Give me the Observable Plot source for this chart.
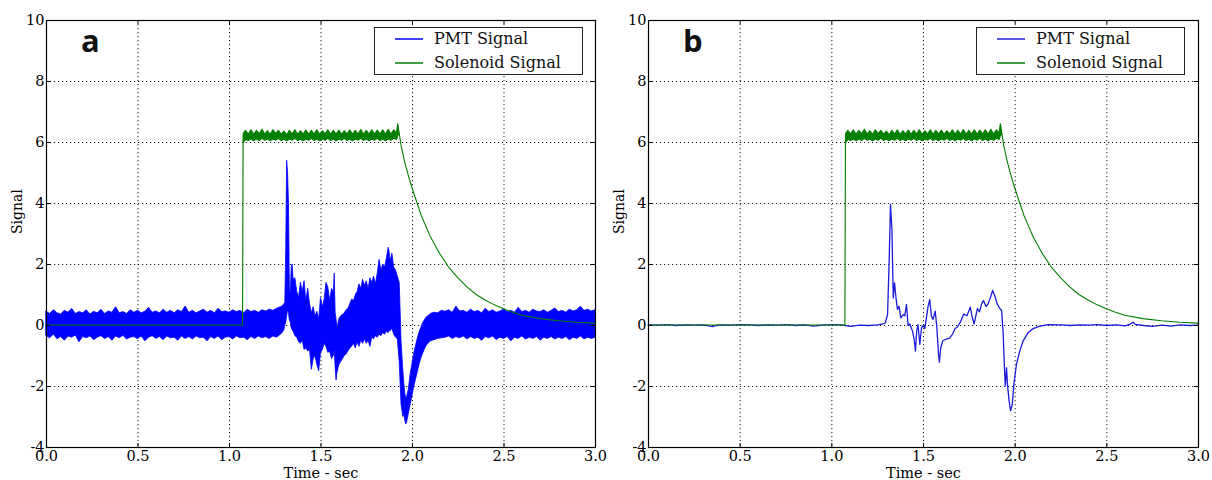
<!DOCTYPE html>
<html>
<head>
<meta charset="utf-8">
<script src="https://cdn.jsdelivr.net/npm/d3@7"></script>
<script src="https://cdn.jsdelivr.net/npm/@observablehq/plot@0.6"></script>
<style>
  body { margin: 0; background: #fff; }
  #wrap { display: flex; width: 1212px; height: 480px; }
  .panel { position: relative; width: 606px; height: 480px; }
  .panel > svg { position: absolute; left: 0; top: 0; overflow: visible; }
  .letter { position: absolute; font-family: "Open Sans", sans-serif; font-weight: 700; font-size: 31px; line-height: 31px; color: #111; }
  .legend { position: absolute; width: 207px; height: 46px; border: 1.3px solid #222; background: #fff;
            font-family: "DejaVu Serif", serif; font-size: 16px; color: #111; box-sizing: content-box; }
  .legend svg.sw { position: absolute; left: 20px; width: 28px; height: 4px; overflow: visible; }
  .legend .lb { position: absolute; left: 59px; line-height: 20px; white-space: nowrap; }
</style>
</head>
<body>
<div id="wrap"></div>
<script>
// ---------------- data ----------------
const xTicks = [0, 0.5, 1.0, 1.5, 2.0, 2.5, 3.0];
const yTicks = [-4, -2, 0, 2, 4, 6, 8, 10];
const seriesNames = ["PMT Signal", "Solenoid Signal"];
const panelLetters = ["a", "b"];
const xLabel = "Time - sec";
const yLabel = "Signal";

// Panel a PMT signal: [time, lower envelope, upper envelope] (noisy band)
const pmtA = [
  [0.00,-0.35,0.45],[0.02,-0.42,0.38],[0.04,-0.30,0.50],[0.06,-0.45,0.40],[0.08,-0.38,0.36],
  [0.10,-0.50,0.48],[0.12,-0.36,0.42],[0.14,-0.40,0.55],[0.16,-0.33,0.38],[0.18,-0.55,0.44],
  [0.20,-0.38,0.40],[0.22,-0.42,0.50],[0.24,-0.36,0.36],[0.26,-0.48,0.45],[0.28,-0.40,0.40],
  [0.30,-0.35,0.52],[0.32,-0.44,0.38],[0.34,-0.38,0.46],[0.36,-0.50,0.42],[0.38,-0.36,0.60],
  [0.40,-0.42,0.40],[0.42,-0.34,0.44],[0.44,-0.46,0.38],[0.46,-0.40,0.50],[0.48,-0.38,0.42],
  [0.50,-0.45,0.48],[0.52,-0.36,0.40],[0.54,-0.52,0.45],[0.56,-0.40,0.58],[0.58,-0.35,0.42],
  [0.60,-0.44,0.46],[0.62,-0.38,0.40],[0.64,-0.48,0.52],[0.66,-0.36,0.42],[0.68,-0.42,0.48],
  [0.70,-0.40,0.40],[0.72,-0.50,0.50],[0.74,-0.36,0.44],[0.76,-0.44,0.62],[0.78,-0.38,0.42],
  [0.80,-0.46,0.48],[0.82,-0.36,0.40],[0.84,-0.42,0.46],[0.86,-0.40,0.52],[0.88,-0.52,0.42],
  [0.90,-0.38,0.48],[0.92,-0.44,0.40],[0.94,-0.36,0.55],[0.96,-0.48,0.44],[0.98,-0.40,0.46],
  [1.00,-0.38,0.42],[1.02,-0.46,0.50],[1.04,-0.36,0.44],[1.06,-0.42,0.48],[1.08,-0.40,0.40],
  [1.10,-0.48,0.52],[1.12,-0.38,0.44],[1.14,-0.44,0.48],[1.16,-0.36,0.42],[1.18,-0.42,0.50],
  [1.20,-0.38,0.46],[1.22,-0.44,0.52],[1.24,-0.36,0.48],[1.26,-0.40,0.55],[1.28,-0.30,0.60],
  [1.29,-0.25,0.62],[1.30,-0.15,0.70],[1.305,0.00,0.75],[1.31,0.10,2.50],[1.315,0.30,5.40],
  [1.32,0.50,5.00],[1.325,0.40,4.00],[1.33,0.15,1.20],[1.335,0.10,1.00],[1.34,-0.10,1.90],
  [1.345,-0.15,2.00],[1.35,-0.20,1.50],[1.36,-0.35,1.55],[1.37,-0.40,1.10],[1.38,-0.55,0.90],
  [1.39,-0.60,1.40],[1.40,-0.50,1.10],[1.41,-0.80,1.45],[1.42,-0.75,0.80],[1.43,-0.85,1.20],
  [1.44,-0.80,0.70],[1.45,-1.45,0.40],[1.46,-1.10,0.60],[1.47,-1.00,0.30],[1.48,-1.30,0.45],
  [1.49,-1.50,0.20],[1.50,-0.90,0.90],[1.51,-0.80,0.60],[1.52,-0.60,0.85],[1.53,-0.70,1.40],
  [1.54,-0.90,1.25],[1.55,-0.85,0.80],[1.56,-1.10,1.20],[1.57,-1.00,1.10],[1.575,-0.80,1.70],
  [1.58,-1.40,0.40],[1.585,-1.80,0.20],[1.59,-1.55,-0.10],[1.60,-1.30,0.20],[1.61,-1.20,0.30],
  [1.62,-1.10,0.35],[1.63,-1.00,0.40],[1.64,-0.95,0.50],[1.65,-0.85,0.55],[1.66,-0.75,0.70],
  [1.67,-0.70,0.85],[1.68,-0.60,0.80],[1.69,-0.75,1.00],[1.70,-0.55,1.10],[1.71,-0.70,1.35],
  [1.72,-0.50,1.20],[1.73,-0.60,1.50],[1.74,-0.45,1.30],[1.75,-0.60,1.45],[1.76,-0.50,1.20],
  [1.77,-0.70,1.55],[1.78,-0.40,1.40],[1.79,-0.45,1.60],[1.80,-0.35,1.35],[1.81,-0.40,1.70],
  [1.82,-0.30,2.15],[1.83,-0.35,1.80],[1.84,-0.25,2.00],[1.85,-0.30,1.90],[1.86,-0.20,2.20],
  [1.87,-0.25,2.55],[1.875,-0.15,2.40],[1.88,-0.20,2.10],[1.89,-0.10,2.35],[1.90,-0.30,1.90],
  [1.91,-0.40,1.80],[1.92,-0.45,1.60],[1.93,-1.20,1.40],[1.935,-1.90,0.50],[1.94,-2.60,-0.50],
  [1.945,-2.80,-1.00],[1.95,-3.00,-1.50],[1.955,-2.90,-1.90],[1.96,-3.10,-2.20],[1.965,-3.25,-2.40],
  [1.97,-3.20,-2.35],[1.98,-2.90,-2.10],[1.99,-2.60,-1.60],[2.00,-2.30,-1.25],[2.01,-2.00,-0.90],
  [2.02,-1.75,-0.65],[2.03,-1.50,-0.40],[2.04,-1.25,-0.20],[2.05,-1.05,-0.05],[2.06,-0.90,0.10],
  [2.07,-0.75,0.20],[2.08,-0.65,0.28],[2.09,-0.58,0.32],[2.10,-0.52,0.38],[2.12,-0.48,0.42],
  [2.14,-0.44,0.40],[2.16,-0.42,0.48],[2.18,-0.40,0.45],[2.20,-0.36,0.50],[2.22,-0.44,0.42],
  [2.24,-0.38,0.62],[2.26,-0.42,0.46],[2.28,-0.36,0.48],[2.30,-0.46,0.42],[2.32,-0.38,0.52],
  [2.34,-0.44,0.44],[2.36,-0.40,0.48],[2.38,-0.50,0.40],[2.40,-0.38,0.55],[2.42,-0.42,0.44],
  [2.44,-0.36,0.50],[2.46,-0.48,0.42],[2.48,-0.40,0.46],[2.50,-0.44,0.52],[2.52,-0.38,0.44],
  [2.54,-0.52,0.48],[2.56,-0.40,0.42],[2.58,-0.44,0.58],[2.60,-0.36,0.44],[2.62,-0.46,0.48],
  [2.64,-0.40,0.42],[2.66,-0.44,0.52],[2.68,-0.38,0.46],[2.70,-0.50,0.44],[2.72,-0.40,0.50],
  [2.74,-0.44,0.42],[2.76,-0.38,0.48],[2.78,-0.46,0.56],[2.80,-0.40,0.44],[2.82,-0.44,0.48],
  [2.84,-0.38,0.42],[2.86,-0.48,0.52],[2.88,-0.40,0.46],[2.90,-0.44,0.50],[2.92,-0.36,0.62],
  [2.94,-0.46,0.48],[2.96,-0.40,0.52],[2.98,-0.44,0.46],[3.00,-0.40,0.50]
];

// Panel b PMT signal (filtered): [time, value]
const pmtB = [
  [0.00,0.02],[0.05,0.01],[0.10,0.03],[0.15,0.00],[0.20,0.02],[0.25,0.01],[0.30,0.02],[0.35,-0.04],
  [0.37,0.00],[0.40,0.02],[0.45,0.01],[0.50,0.03],[0.55,0.02],[0.60,0.00],[0.65,0.02],[0.70,0.01],
  [0.75,0.03],[0.80,0.00],[0.85,0.02],[0.90,-0.02],[0.95,0.01],[1.00,0.03],[1.05,0.02],[1.10,-0.03],
  [1.15,0.01],[1.20,0.00],[1.25,0.02],[1.28,0.05],[1.292,0.09],[1.304,0.36],[1.313,2.20],[1.32,3.97],
  [1.328,3.10],[1.335,0.90],[1.342,1.40],[1.35,0.90],[1.358,0.53],[1.367,0.63],[1.376,0.25],[1.389,0.36],
  [1.398,0.32],[1.407,0.69],[1.416,0.00],[1.425,0.05],[1.44,-0.18],[1.449,-0.45],[1.456,-0.84],[1.463,-0.18],
  [1.47,0.03],[1.48,-0.62],[1.489,-0.08],[1.498,0.00],[1.507,-0.10],[1.516,0.25],[1.525,0.63],[1.534,0.85],
  [1.543,0.31],[1.552,0.20],[1.564,0.47],[1.573,-0.08],[1.582,-0.95],[1.587,-1.20],[1.594,-0.73],[1.605,-0.50],
  [1.623,-0.45],[1.641,-0.42],[1.659,-0.28],[1.672,-0.10],[1.685,-0.05],[1.70,0.10],[1.719,0.37],[1.737,0.32],
  [1.755,0.60],[1.764,0.32],[1.776,0.05],[1.794,0.55],[1.805,0.45],[1.817,0.71],[1.827,0.82],[1.841,0.62],
  [1.853,0.72],[1.866,0.93],[1.877,1.15],[1.89,0.95],[1.902,0.71],[1.917,0.55],[1.926,0.50],[1.935,-0.30],
  [1.94,-1.17],[1.946,-1.98],[1.953,-1.38],[1.958,-1.93],[1.967,-2.48],[1.975,-2.79],[1.984,-2.60],[1.993,-1.93],
  [2.007,-1.27],[2.025,-0.84],[2.043,-0.51],[2.07,-0.24],[2.098,-0.10],[2.134,-0.02],[2.18,0.03],[2.25,0.02],
  [2.30,0.00],[2.35,0.02],[2.40,0.01],[2.45,0.03],[2.50,0.00],[2.55,0.02],[2.60,-0.01],[2.63,0.05],
  [2.643,0.11],[2.655,0.04],[2.70,0.00],[2.75,-0.03],[2.80,0.01],[2.85,-0.02],[2.90,0.02],[2.95,0.00],[3.00,0.01]
];

// Solenoid signal (same in both panels): [time, lower, upper] (ripple band on the plateau)
const solenoid = [
  [0.00,0,0],[1.074,0,0],[1.077,5.95,6.25],[1.080,6.00,6.30],[1.090,6.08,6.38],[1.105,6.05,6.26],
  [1.120,6.10,6.40],[1.135,6.04,6.25],[1.150,6.10,6.38],[1.165,6.05,6.27],[1.180,6.12,6.42],[1.195,6.06,6.26],
  [1.210,6.10,6.37],[1.225,6.04,6.25],[1.240,6.10,6.40],[1.255,6.06,6.28],[1.270,6.12,6.38],[1.285,6.05,6.26],
  [1.300,6.10,6.36],[1.315,6.04,6.24],[1.330,6.10,6.38],[1.345,6.06,6.26],[1.360,6.12,6.40],[1.375,6.05,6.25],
  [1.390,6.10,6.37],[1.405,6.04,6.26],[1.420,6.10,6.39],[1.435,6.06,6.25],[1.450,6.12,6.38],[1.465,6.05,6.26],
  [1.480,6.10,6.40],[1.495,6.04,6.25],[1.510,6.10,6.37],[1.525,6.06,6.27],[1.540,6.12,6.40],[1.555,6.05,6.25],
  [1.570,6.10,6.38],[1.585,6.04,6.26],[1.600,6.10,6.39],[1.615,6.06,6.25],[1.630,6.12,6.37],[1.645,6.05,6.26],
  [1.660,6.10,6.40],[1.675,6.04,6.25],[1.690,6.10,6.38],[1.705,6.06,6.26],[1.720,6.12,6.41],[1.735,6.05,6.25],
  [1.750,6.10,6.38],[1.765,6.04,6.26],[1.780,6.10,6.40],[1.795,6.06,6.25],[1.810,6.12,6.39],[1.825,6.05,6.26],
  [1.840,6.10,6.40],[1.855,6.04,6.25],[1.870,6.10,6.42],[1.885,6.06,6.26],[1.900,6.12,6.40],[1.915,6.08,6.30],
  [1.922,6.20,6.60],[1.930,6.30,6.30],[1.94,5.90,5.90],[1.96,5.35,5.35],[1.98,4.90,4.90],[2.00,4.50,4.50],
  [2.025,4.05,4.05],[2.05,3.60,3.60],[2.075,3.25,3.25],[2.10,2.90,2.90],[2.15,2.35,2.35],[2.20,1.90,1.90],
  [2.25,1.55,1.55],[2.30,1.25,1.25],[2.35,1.00,1.00],[2.40,0.82,0.82],[2.45,0.66,0.66],[2.50,0.53,0.53],
  [2.55,0.42,0.42],[2.60,0.32,0.32],[2.70,0.21,0.21],[2.80,0.14,0.14],[2.90,0.09,0.09],[3.00,0.06,0.06]
];

// ---------------- drawing ----------------
const BLUE = "#0000ff", BLUE_B = "#1c1cd8", GREEN = "#007f00";
const W = 606, H = 480, MT = 20, MB = 33;
const SVGNS = "http://www.w3.org/2000/svg";

function makePanel(letter, pmtMark, ml, mr, legendLeft, pmtColor) {
  const plotW = W - ml - mr, plotH = H - MT - MB;
  const grid = {stroke: "#000", strokeOpacity: 0.9, strokeWidth: 1, strokeDasharray: "1.2,2.8"};
  const svg = Plot.plot({
    width: W, height: H,
    marginLeft: ml, marginRight: mr, marginTop: MT, marginBottom: MB,
    style: {fontFamily: "'DejaVu Serif', serif", fontSize: "14.5px", color: "#000", background: "transparent", overflow: "visible"},
    x: {domain: [0, 3]},
    y: {domain: [-4, 10]},
    marks: [
      Plot.gridX(xTicks, grid),
      Plot.gridY(yTicks, grid),
      pmtMark,
      Plot.areaY(solenoid, {x: d => d[0], y1: d => d[1], y2: d => d[2], fill: GREEN, stroke: GREEN, strokeWidth: 1.1}),
      Plot.frame({stroke: "#000", strokeWidth: 1.2}),
      Plot.ruleX(xTicks, {x: d => d, insetBottom: plotH - 4, stroke: "#000"}),
      Plot.ruleX(xTicks, {x: d => d, insetTop: plotH - 4, stroke: "#000"}),
      Plot.ruleY(yTicks, {y: d => d, insetRight: plotW - 4, stroke: "#000"}),
      Plot.ruleY(yTicks, {y: d => d, insetLeft: plotW - 4, stroke: "#000"}),
      Plot.axisX(xTicks, {tickSize: 0, tickPadding: 3, tickFormat: d => d.toFixed(1), label: null, fontSize: 14.5}),
      Plot.axisY(yTicks, {tickSize: 0, tickPadding: 2, tickFormat: d => String(d), label: null, fontSize: 14.5}),
      Plot.text([xLabel], {text: d => d, frameAnchor: "bottom", lineAnchor: "middle", dy: 26, fontSize: 14.5}),
      Plot.text([yLabel], {text: d => d, frameAnchor: "left", lineAnchor: "middle", dx: -29, rotate: -90, fontSize: 14})
    ]
  });
  const div = document.createElement("div");
  div.className = "panel";
  div.appendChild(svg);

  const lt = document.createElement("div");
  lt.className = "letter";
  lt.textContent = letter;
  lt.style.left = (ml + 35) + "px";
  lt.style.top = "25px";
  div.appendChild(lt);

  const lg = document.createElement("div");
  lg.className = "legend";
  lg.style.left = legendLeft + "px";
  lg.style.top = "27px";
  const colors = [pmtColor, GREEN];
  seriesNames.forEach((name, i) => {
    const cy = 11 + i * 24;
    const sw = document.createElementNS(SVGNS, "svg");
    sw.setAttribute("class", "sw");
    sw.setAttribute("width", "28");
    sw.setAttribute("height", "4");
    sw.style.top = (cy - 2) + "px";
    const ln = document.createElementNS(SVGNS, "line");
    ln.setAttribute("x1", "0"); ln.setAttribute("x2", "28");
    ln.setAttribute("y1", "2"); ln.setAttribute("y2", "2");
    ln.setAttribute("stroke", colors[i]);
    ln.setAttribute("stroke-width", "1.5");
    sw.appendChild(ln);
    lg.appendChild(sw);
    const lb = document.createElement("div");
    lb.className = "lb";
    lb.style.top = (cy - 10) + "px";
    lb.textContent = name;
    lg.appendChild(lb);
  });
  div.appendChild(lg);
  return div;
}

const wrap = document.getElementById("wrap");
wrap.appendChild(makePanel(panelLetters[0],
  Plot.areaY(pmtA, {x: d => d[0], y1: d => d[1], y2: d => d[2], fill: BLUE, stroke: BLUE, strokeWidth: 0.8}),
  46, 11, 374, BLUE));
wrap.appendChild(makePanel(panelLetters[1],
  Plot.line(pmtB, {x: d => d[0], y: d => d[1], stroke: BLUE_B, strokeWidth: 1.3}),
  42, 14, 370, BLUE_B));
</script>
</body>
</html>
